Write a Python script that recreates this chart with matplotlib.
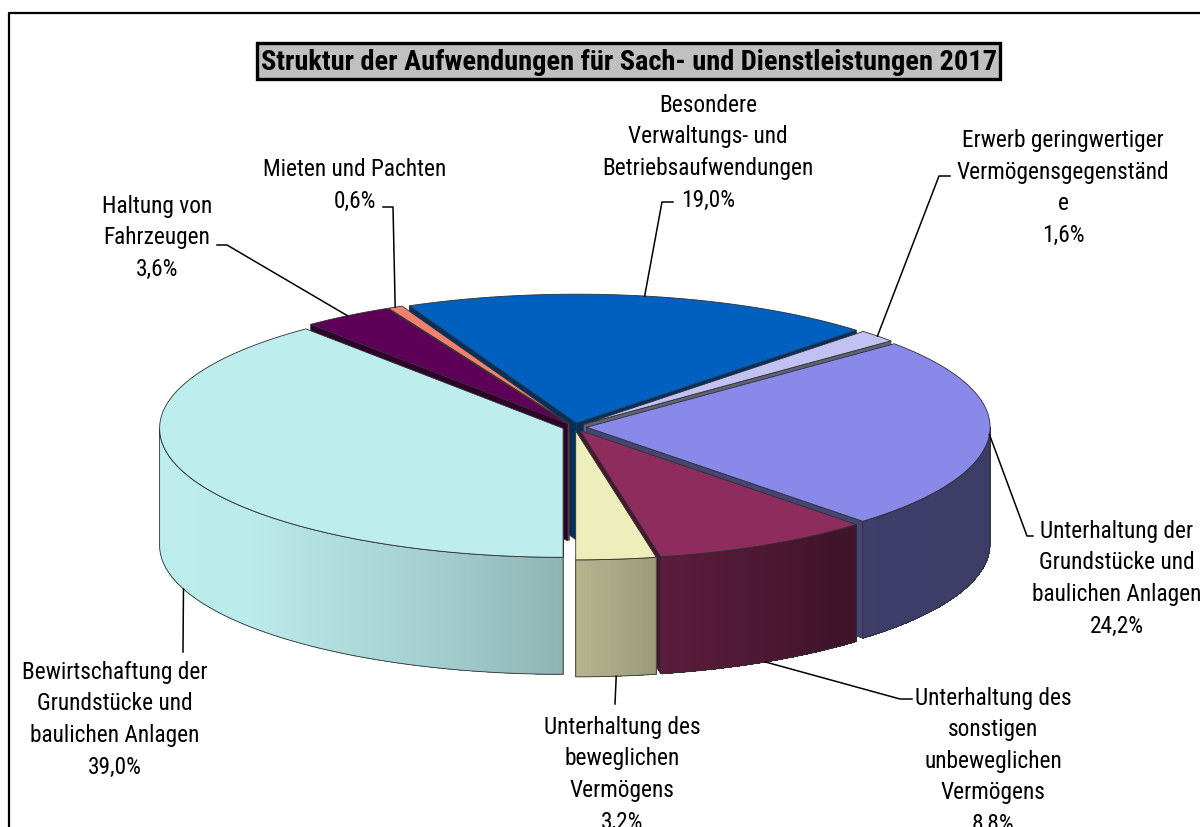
import numpy as np
import matplotlib.pyplot as plt
import matplotlib.colors as mcolors
from matplotlib.patches import Polygon, Rectangle

plt.rcParams['font.family'] = ['Liberation Sans Narrow', 'Roboto Condensed', 'Archivo Narrow',
                               'PT Sans Narrow', 'IBM Plex Sans Condensed', 'DejaVu Sans']

# slices, counter-clockwise, starting at the front of the pie
labels = [
    "Unterhaltung des\nbeweglichen\nVermögens",
    "Unterhaltung des\nsonstigen\nunbeweglichen\nVermögens",
    "Unterhaltung der\nGrundstücke und\nbaulichen Anlagen",
    "Erwerb geringwertiger\nVermögensgegenständ\ne",
    "Besondere\nVerwaltungs- und\nBetriebsaufwendungen",
    "Mieten und Pachten",
    "Haltung von\nFahrzeugen",
    "Bewirtschaftung der\nGrundstücke und\nbaulichen Anlagen",
]
values = [3.2, 8.8, 24.2, 1.6, 19.0, 0.6, 3.6, 39.0]
colors = ['#EEEEBD', '#8E2C5E', '#8989EA', '#C2C2F2',
          '#0060BF', '#F08070', '#5E0058', '#BDEDED']

title = "Struktur der Aufwendungen für Sach- und Dienstleistungen 2017"

# pie layout (pixels)
cx, cy = 574.5, 428
rx, ry = 403.5, 129
depth = 117
explode = 0.03
start = 270

# label layout: centre x, first line centre y
label_xy = [(622, 726), (993, 697), (1117, 530), (1063, 139),
            (708, 104), (355, 168), (157, 205), (115, 671)]
leader_pts = [[(615, 705)], [(900, 700), (912, 700)], [(1027, 537), (1033, 537)],
              [(939, 177), (950, 177)], [(662, 203), (673, 203)],
              [(393, 208), (383, 208)], [(227, 246), (217, 246)], [(183, 653)]]
line_step = 31.5

# side shading by angle
wall_t = [180, 220, 250, 270, 285, 310, 360]
wall_f = [1.0, 0.99, 0.88, 0.76, 0.62, 0.45, 0.44]


def shade(c, f):
    r, g, b = mcolors.to_rgb(c)
    return (r * f, g * f, b * f)


def pt(theta, r, z, off):
    t = np.radians(theta)
    return (cx + off[0] + rx * r * np.cos(t), cy + off[1] - ry * r * np.sin(t) + z)


fig = plt.figure(figsize=(12, 8.28), dpi=100)
ax = fig.add_axes([0, 0, 1, 1])
ax.set_xlim(0, 1200)
ax.set_ylim(828, 0)
ax.axis('off')

vals = np.array(values)
edges = start + 360 * np.concatenate([[0], np.cumsum(vals)]) / vals.sum()
mids = (edges[:-1] + edges[1:]) / 2

# draw back slices first
order = sorted(range(len(vals)), key=lambda i: -np.sin(np.radians(mids[i])))
edge_c = '#303030'

for i in order:
    a0, a1 = edges[i], edges[i + 1]
    m = np.radians(mids[i])
    off = (explode * rx * np.cos(m), -explode * ry * np.sin(m))
    base = colors[i]

    # radial walls facing the viewer
    for a, vis in [(a0, np.cos(np.radians(a0)) > 0), (a1, np.cos(np.radians(a1)) < 0)]:
        if vis:
            poly = [pt(a, 0, 0, off), pt(a, 1, 0, off), pt(a, 1, depth, off), pt(a, 0, depth, off)]
            ax.add_patch(Polygon(poly, closed=True, facecolor=shade(base, 0.5),
                                 edgecolor=edge_c, lw=0.5))

    # outer wall, front half only
    for lo, hi in [(180, 360), (540, 720)]:
        s, e = max(a0, lo), min(a1, hi)
        if e <= s:
            continue
        th = np.linspace(s, e, max(int(e - s) * 2, 2))
        for k in range(len(th) - 1):
            f = np.interp(((th[k] + th[k + 1]) / 2) % 360, wall_t, wall_f)
            q = [pt(th[k], 1, 0, off), pt(th[k + 1], 1, 0, off),
                 pt(th[k + 1], 1, depth, off), pt(th[k], 1, depth, off)]
            ax.add_patch(Polygon(q, closed=True, facecolor=shade(base, f),
                                 lw=0, antialiased=False))
        outline = [pt(t, 1, 0, off) for t in th] + [pt(t, 1, depth, off) for t in th[::-1]]
        ax.add_patch(Polygon(outline, closed=True, fill=False, edgecolor=edge_c, lw=0.6))

    # top face
    th = np.linspace(a0, a1, max(int((a1 - a0) * 2), 3))
    poly = [pt(a0, 0, 0, off)] + [pt(t, 1, 0, off) for t in th]
    ax.add_patch(Polygon(poly, closed=True, facecolor=base, edgecolor=edge_c, lw=0.6))

# labels with leader lines
for i in range(len(vals)):
    m = mids[i]
    m_r = np.radians(m)
    off = (explode * rx * np.cos(m_r), -explode * ry * np.sin(m_r))
    z = depth if np.sin(m_r) < -0.3 else 0
    anchor = pt(m, 1, z, off)
    path = [anchor] + leader_pts[i]
    ax.plot([p[0] for p in path], [p[1] for p in path], color='black', lw=1.1)

    pct = f"{values[i]:.1f}".replace('.', ',') + '%'
    lines = labels[i].split('\n') + [pct]
    x0, y0 = label_xy[i]
    for k, line in enumerate(lines):
        ax.text(x0, y0 + k * line_step + 8, line, ha='center', va='baseline',
                fontsize=16.8, color='black')

# title box
ax.add_patch(Rectangle((257, 44), 743, 36, facecolor='#C0C0C0', edgecolor='black', lw=2.4))
ax.text(629, 63, title, ha='center', va='center', fontsize=20.4, fontweight='bold')

# chart frame
ax.plot([9, 9, 1200], [828, 14, 14], color='black', lw=1.6)

fig.savefig('out.png', dpi=100)
